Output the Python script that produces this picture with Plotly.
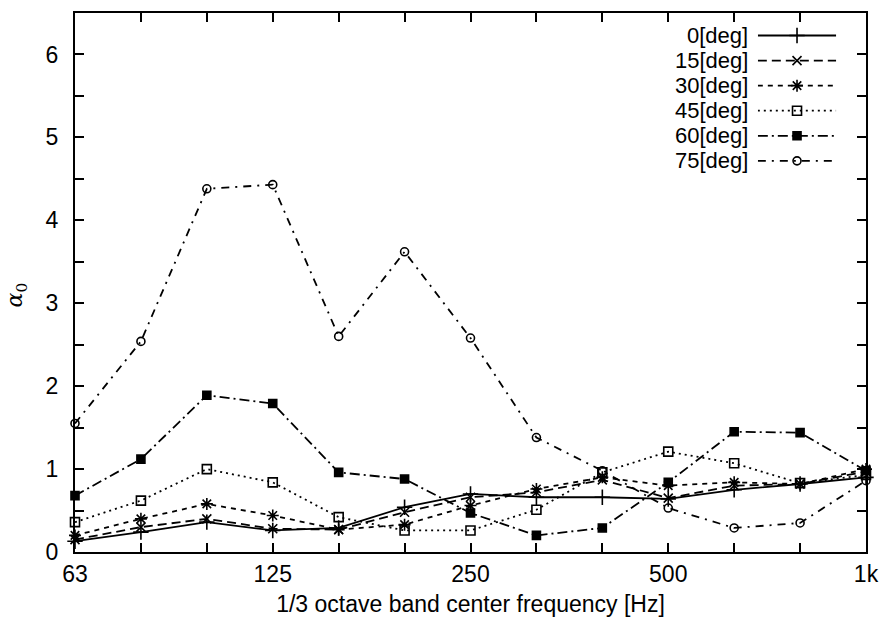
import plotly.graph_objects as go

# 1/3 octave band centre frequencies and the bands that get a tick label
bands = ["63", "80", "100", "125", "160", "200", "250", "315", "400", "500", "630", "800", "1k"]
labelled = ["63", "125", "250", "500", "1k"]

# alpha_0 per band for each incidence angle
angles = ["0[deg]", "15[deg]", "30[deg]", "45[deg]", "60[deg]", "75[deg]"]
a0 = [0.13, 0.24, 0.36, 0.26, 0.29, 0.54, 0.70, 0.66, 0.66, 0.64, 0.75, 0.82, 0.90]
a15 = [0.15, 0.30, 0.40, 0.28, 0.27, 0.48, 0.66, 0.72, 0.87, 0.65, 0.80, 0.82, 0.97]
a30 = [0.20, 0.40, 0.58, 0.44, 0.27, 0.33, 0.56, 0.76, 0.90, 0.80, 0.84, 0.82, 1.00]
a45 = [0.36, 0.62, 1.00, 0.84, 0.42, 0.26, 0.26, 0.51, 0.96, 1.21, 1.07, 0.83, 0.93]
a60 = [0.68, 1.12, 1.89, 1.79, 0.96, 0.88, 0.47, 0.20, 0.29, 0.84, 1.45, 1.44, 0.98]
a75 = [1.55, 2.54, 4.38, 4.43, 2.60, 3.62, 2.58, 1.38, 0.98, 0.53, 0.29, 0.35, 0.86]
series = [a0, a15, a30, a45, a60, a75]

dashes = ["solid", "9px,5px", "5px,5px", "2px,4px", "10px,4px,2px,4px", "8px,6px,2px,6px"]
symbols = ["cross-thin-open", "x-thin-open", "asterisk-open", "square-open", "square", "circle-open"]
msizes = [11, 9, 10, 9, 8, 8]

FONT = "Liberation Sans, Arial, sans-serif"
x = list(range(len(bands)))
major = [i for i, b in enumerate(bands) if b in labelled]

W, H = 890, 631
L, R, T, B = 75, 18, 11, 79
PW, PH = W - L - R, H - T - B


def px_x(p):
    """Pixel column -> plot-area fraction."""
    return (p - L) / PW


def px_y(p):
    """Pixel row -> plot-area fraction."""
    return (H - B - p) / PH


fig = go.Figure()
for name, ys, dash, sym, ms in zip(angles, series, dashes, symbols, msizes):
    fig.add_trace(go.Scatter(
        x=x, y=ys, name=name, mode="lines+markers",
        line=dict(color="black", width=1.8, dash=dash),
        marker=dict(symbol=sym, size=ms, color="black",
                    line=dict(color="black", width=1.6)),
        cliponaxis=False, showlegend=False,
    ))

# key in the upper right: label text to the left of a line sample
for k, (name, dash, sym, ms) in enumerate(zip(angles, dashes, symbols, msizes)):
    fig.add_trace(go.Scatter(
        x=[0, 1], y=[k, k], mode="lines", xaxis="x2", yaxis="y2",
        line=dict(color="black", width=1.8, dash=dash), showlegend=False,
        hoverinfo="skip",
    ))
    fig.add_trace(go.Scatter(
        x=[0.5], y=[k], mode="markers", xaxis="x2", yaxis="y2",
        marker=dict(symbol=sym, size=ms, color="black",
                    line=dict(color="black", width=1.6)),
        showlegend=False, hoverinfo="skip", cliponaxis=False,
    ))
    fig.add_annotation(
        x=px_x(755), xref="paper", y=k, yref="y2", text=name,
        showarrow=False, xanchor="right", yanchor="middle",
        font=dict(family=FONT, size=22, color="black"),
    )

fig.update_layout(
    width=W, height=H,
    margin=dict(l=L, r=R, t=T, b=B),
    paper_bgcolor="white", plot_bgcolor="white",
    font=dict(family=FONT, size=23, color="black"),
    xaxis=dict(
        range=[0, len(bands) - 1],
        tickvals=major,
        ticktext=[bands[i] for i in major],
        ticks="inside", ticklen=9, tickwidth=1.6, tickcolor="black",
        minor=dict(tickvals=x, ticks="inside", ticklen=9, tickwidth=1.6,
                   tickcolor="black", showgrid=False),
        showline=True, linecolor="black", linewidth=2.2, mirror="ticks",
        showgrid=False, zeroline=False,
        tickfont=dict(size=23),
        title=dict(text="1/3 octave band center frequency [Hz]",
                   font=dict(size=23), standoff=10),
    ),
    yaxis=dict(
        range=[0, 6.5],
        tickvals=list(range(7)),
        ticks="inside", ticklen=9, tickwidth=1.6, tickcolor="black",
        minor=dict(dtick=0.5, ticks="inside", ticklen=9, tickwidth=1.6,
                   tickcolor="black", showgrid=False),
        ticklabelstandoff=10,
        showline=True, linecolor="black", linewidth=2.2, mirror="ticks",
        showgrid=False, zeroline=False,
        tickfont=dict(size=23),
    ),
    xaxis2=dict(domain=[px_x(763), px_x(842)], range=[0, 1], anchor="y2",
                visible=False, fixedrange=True),
    yaxis2=dict(domain=[px_y(172), px_y(21)], range=[5.5, -0.5],
                anchor="x2", visible=False, fixedrange=True),
)

# rotated y-axis title
fig.add_annotation(
    x=px_x(17), xref="paper", y=3.1, yref="y",
    text="<i>α</i><sub>0</sub>", textangle=-90, showarrow=False,
    xanchor="center", yanchor="middle",
    font=dict(family="DejaVu Serif, serif", size=22, color="black"),
)

fig.write_html("out.html")
